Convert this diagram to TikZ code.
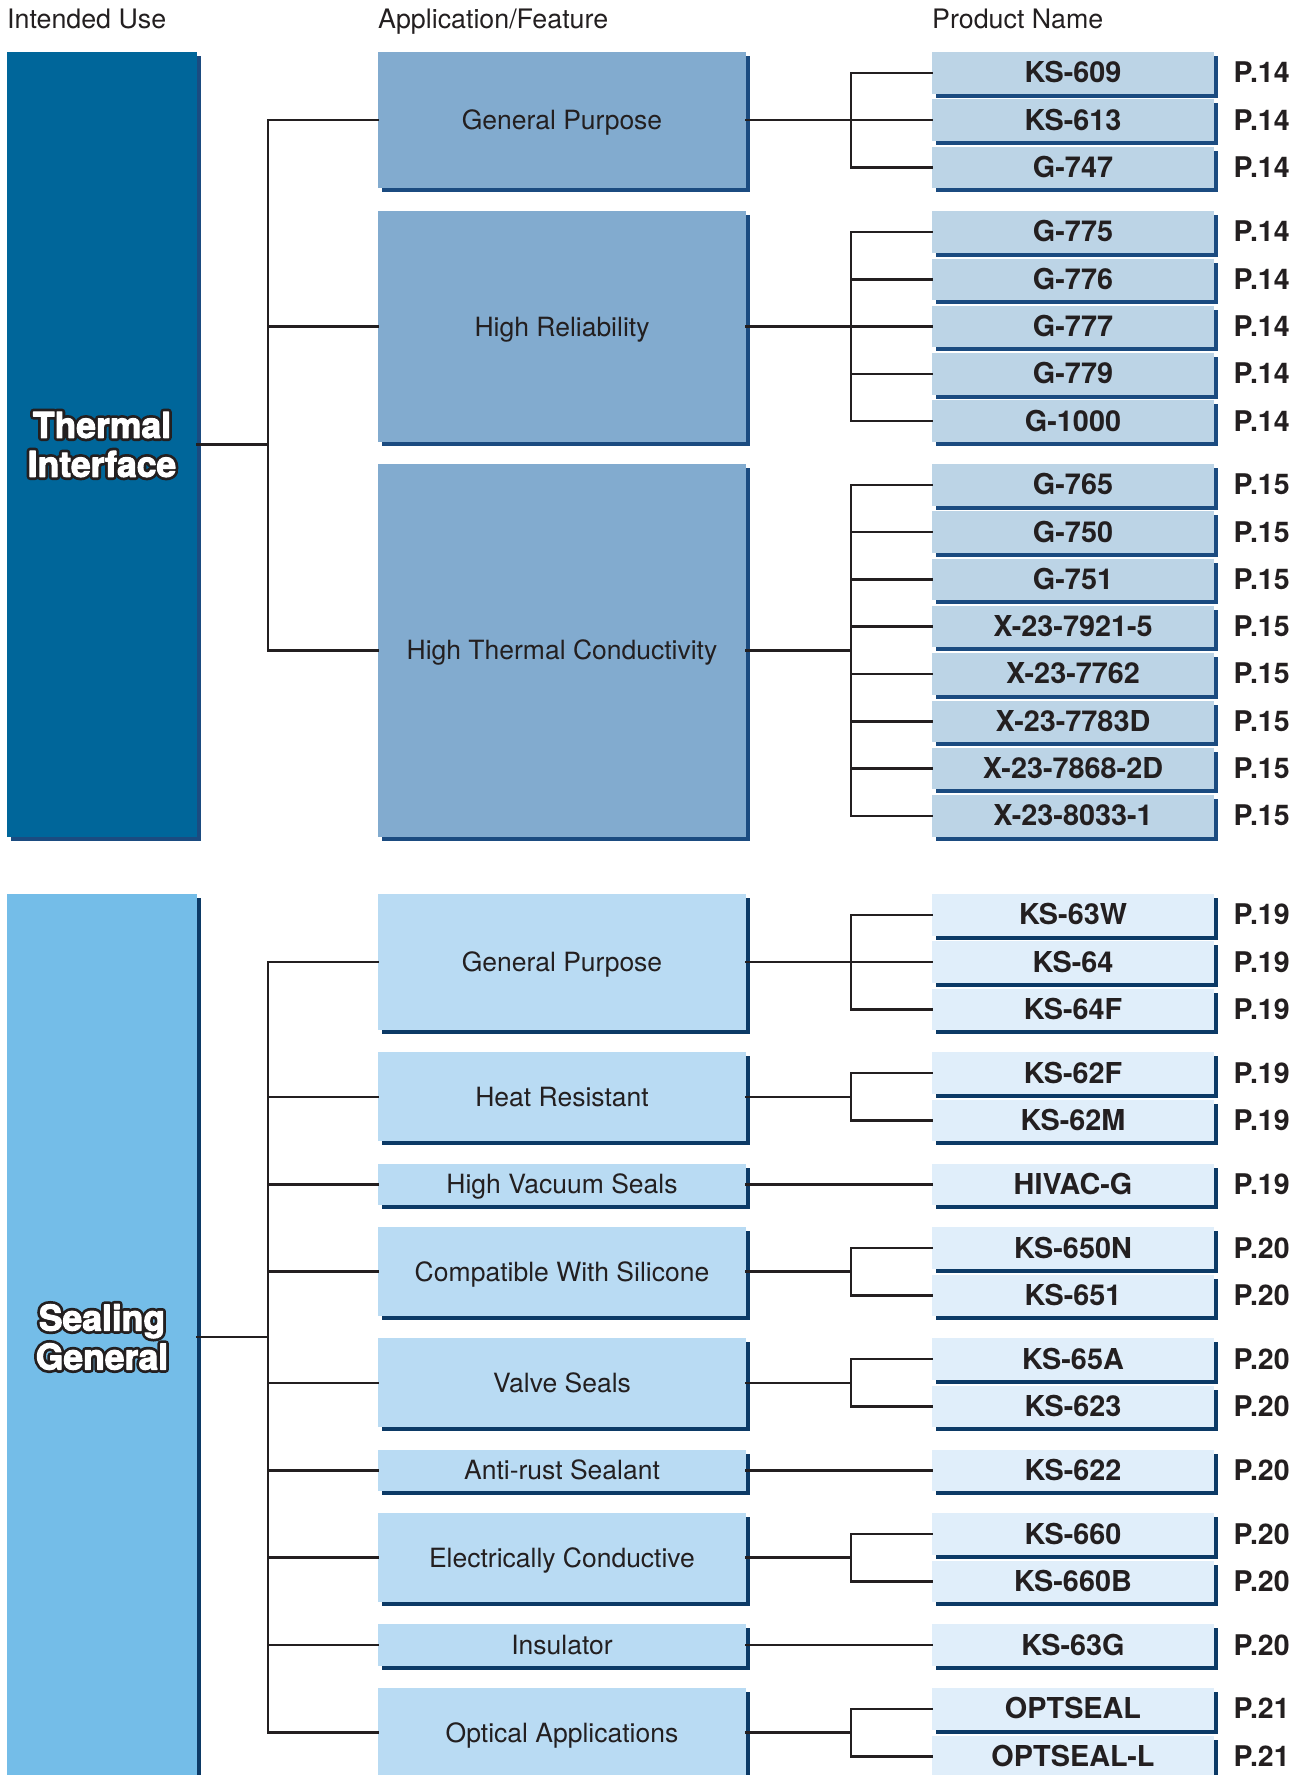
\documentclass[tikz,border=0pt]{standalone}
\usepackage{fontspec}
\setmainfont{TeX Gyre Heros}
\usepackage{tikz}
\usetikzlibrary{shadows}
\definecolor{ink}{HTML}{231F20}
\definecolor{tiBlue}{HTML}{00669A}
\definecolor{tiApp}{HTML}{82ABCF}
\definecolor{tiProd}{HTML}{BCD4E6}
\definecolor{tiShade}{HTML}{1B4B80}
\definecolor{sgBlue}{HTML}{74BDE8}
\definecolor{sgApp}{HTML}{B9DBF3}
\definecolor{sgProd}{HTML}{E0EEFA}
\definecolor{sgShade}{HTML}{0C3A66}
% white letters with a dark rim, drawn with the pdf text render mode
\newcommand{\rimtext}[1]{\leavevmode
  \rlap{\special{pdf:literal direct 2 Tr 6.5 w 1 j 0.137 0.122 0.125 rg 0.137 0.122 0.125 RG}#1}%
  \special{pdf:literal direct 2 Tr 1 w 1 j 1 g 1 G}#1\special{pdf:literal direct 0 Tr}}
\tikzset{
  box/.style={rectangle, inner sep=0pt, text=ink},
  shadeT/.style={drop shadow={shadow xshift=4pt, shadow yshift=-4pt, fill=tiShade, opacity=1}},
  shadeS/.style={drop shadow={shadow xshift=4pt, shadow yshift=-4pt, fill=sgShade, opacity=1}},
  usebox/.style={box, minimum width=190pt, text=white, align=center, font=\fontsize{35.5}{39}\selectfont\bfseries},
  app/.style={box, minimum width=368pt, text height=19pt, text depth=0pt, font=\fontsize{26.5}{30}\selectfont},
  prod/.style={box, minimum width=282pt, minimum height=41.5pt, text height=20pt, text depth=0pt, font=\fontsize{28.8}{30}\selectfont\bfseries},
  page/.style={inner sep=0pt, anchor=west, text=ink, text height=20pt, text depth=0pt, font=\fontsize{28.5}{30}\selectfont\bfseries},
  head/.style={inner sep=0pt, anchor=base west, text=ink, font=\fontsize{26.8}{30}\selectfont},
  link/.style={draw=ink, line width=2.5pt, line cap=rect}
}
\begin{document}
\begin{tikzpicture}[x=1pt, y=-1pt]
  \useasboundingbox (0,0) rectangle (1305,1775);
  \clip (0,0) rectangle (1305,1775);
  \coordinate (lx) at (268,0);
  \coordinate (bx) at (851,0);

  \node[head] (hUse) at (7,28) {Intended Use};
  \node[head] (hApp) at (378,28) {Application/Feature};
  \node[head] (hProd) at (932,28) {Product Name};

  % Thermal Interface
  \node[usebox, shadeT, fill=tiBlue, minimum height=785pt] (tint) at (102,444.5)
    {\rimtext{Thermal}\\\rimtext{Interface}};
  \foreach \nm/\y/\h/\lab in {tgp/120.05/136.1/General Purpose,
      trel/326.55/230.7/High Reliability,
      tcond/650.3/372.6/High Thermal Conductivity}
    \node[app, shadeT, fill=tiApp, minimum height=\h pt] (\nm) at (562,\y) {\lab};
  \foreach \nm/\y/\lab/\pg in {tgp1/72.75/KS-609/14, tgp2/120.05/KS-613/14, tgp3/167.35/G-747/14,
      trel1/231.95/G-775/14, trel2/279.25/G-776/14, trel3/326.55/G-777/14,
      trel4/373.85/G-779/14, trel5/421.15/G-1000/14,
      tcond1/484.75/G-765/15, tcond2/532.05/G-750/15, tcond3/579.35/G-751/15,
      tcond4/626.65/X-23-7921-5/15, tcond5/673.95/X-23-7762/15, tcond6/721.25/X-23-7783D/15,
      tcond7/768.55/X-23-7868-2D/15, tcond8/815.85/X-23-8033-1/15}
    {\node[prod, shadeT, fill=tiProd] (\nm) at (1073,\y) {\lab};
     \node[page] (pg\nm) at (1233.5,\y) {P.\pg};}
  \foreach \grp/\n in {tgp/3, trel/5, tcond/8}
    {\draw[link] (\grp -| lx) -- (\grp.west);
     \draw[link] (\grp.east) -- (\grp -| bx);
     \draw[link] (\grp1 -| bx) -- (\grp\n -| bx);
     \foreach \i in {1,...,\n} \draw[link] (\grp\i -| bx) -- (\grp\i.west);}
  \draw[link] (tint.east) -- (tint -| lx);
  \draw[link] (tgp -| lx) -- (tcond -| lx);

  % Sealing General
  \node[usebox, shadeS, fill=sgBlue, minimum height=886pt] (sgen) at (102,1337)
    {\rimtext{Sealing}\\\rimtext{General}};
  \foreach \nm/\y/\h/\lab in {sgp/962.05/136.1/General Purpose,
      sheat/1096.8/88.8/Heat Resistant,
      svac/1184.25/41.5/High Vacuum Seals,
      scomp/1271.7/88.8/Compatible With Silicone,
      svalve/1382.8/88.8/Valve Seals,
      srust/1470.25/41.5/Anti-rust Sealant,
      selec/1557.7/88.8/Electrically Conductive,
      sins/1645.15/41.5/Insulator,
      sopt/1732.6/88.8/Optical Applications}
    \node[app, shadeS, fill=sgApp, minimum height=\h pt] (\nm) at (562,\y) {\lab};
  \foreach \nm/\y/\lab/\pg in {sgp1/914.75/KS-63W/19, sgp2/962.05/KS-64/19, sgp3/1009.35/KS-64F/19,
      sheat1/1073.15/KS-62F/19, sheat2/1120.45/KS-62M/19,
      svac1/1184.25/HIVAC-G/19,
      scomp1/1248.05/KS-650N/20, scomp2/1295.35/KS-651/20,
      svalve1/1359.15/KS-65A/20, svalve2/1406.45/KS-623/20,
      srust1/1470.25/KS-622/20,
      selec1/1534.05/KS-660/20, selec2/1581.35/KS-660B/20,
      sins1/1645.15/KS-63G/20,
      sopt1/1708.95/OPTSEAL/21, sopt2/1756.25/OPTSEAL-L/21}
    {\node[prod, shadeS, fill=sgProd] (\nm) at (1073,\y) {\lab};
     \node[page] (pg\nm) at (1233.5,\y) {P.\pg};}
  \foreach \grp/\n in {sgp/3, sheat/2, svac/1, scomp/2, svalve/2, srust/1, selec/2, sins/1, sopt/2}
    {\draw[link] (\grp -| lx) -- (\grp.west);
     \draw[link] (\grp.east) -- (\grp -| bx);
     \draw[link] (\grp1 -| bx) -- (\grp\n -| bx);
     \foreach \i in {1,...,\n} \draw[link] (\grp\i -| bx) -- (\grp\i.west);}
  \draw[link] (sgen.east) -- (sgen -| lx);
  \draw[link] (sgp -| lx) -- (sopt -| lx);
\end{tikzpicture}
\end{document}
